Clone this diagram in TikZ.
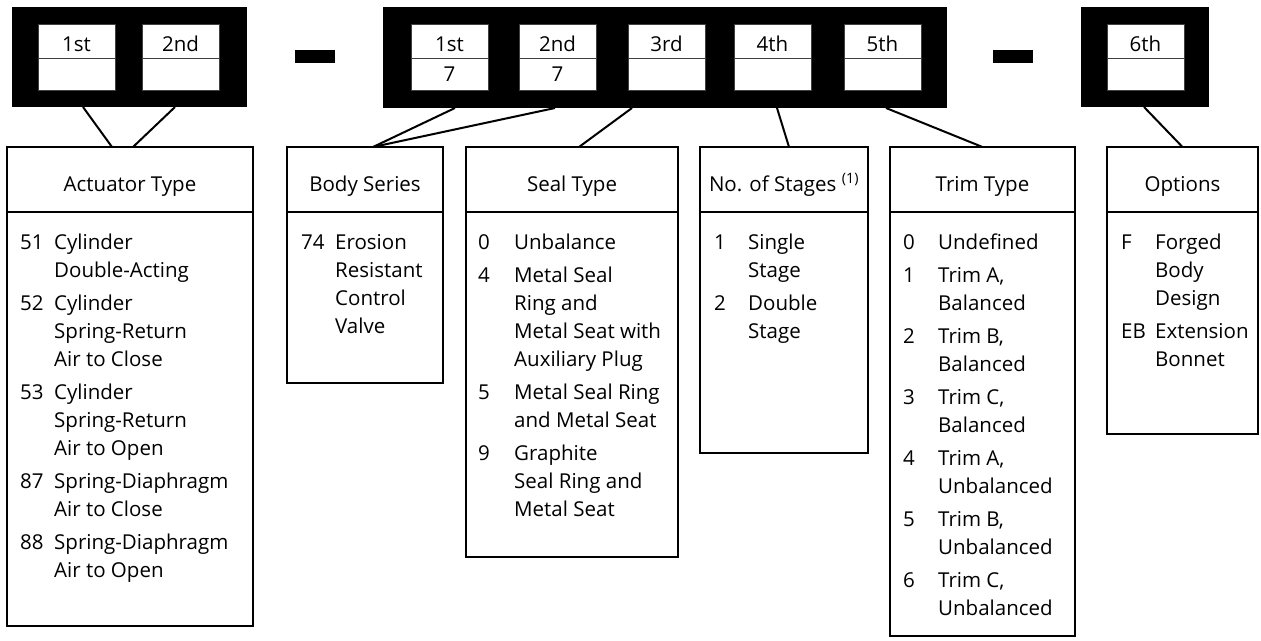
\documentclass[tikz,border=0pt]{standalone}
\usepackage{fontspec}
\setmainfont{Open Sans}
\usetikzlibrary{positioning, calc}
\tikzset{ blk/.style = { fill           = black
                       , inner sep      = 0pt
                       , outer sep      = 0pt
                       , anchor         = north west
                       },
          cel/.style = { draw           = black!75
                       , fill           = white
                       , line width     = 1pt
                       , inner sep      = 0pt
                       , outer sep      = 0pt
                       , minimum width  = 77pt
                       , minimum height = 34pt
                       , anchor         = north west
                       , font           = \fontsize{20.5}{24}\selectfont
                       },
          hd/.style  = { draw
                       , line width     = 1.3pt
                       , inner sep      = 0pt
                       , outer sep      = 0pt
                       , minimum height = 65pt
                       , anchor         = north west
                       , text height    = 23pt
                       , text depth     = 0pt
                       , font           = \fontsize{20.5}{28}\selectfont
                       },
          bd/.style  = { draw
                       , line width     = 1.3pt
                       , inner sep      = 0pt
                       , outer sep      = 0pt
                       , anchor         = north
                       },
          lst/.style = { inner sep      = 0pt
                       , anchor         = north west
                       , font           = \fontsize{20.5}{28}\selectfont
                       },
          ln/.style  = { line width     = 2pt
                       }
        }

\begin{document}
\begin{tikzpicture}[x=1pt, y=-1pt]
    \useasboundingbox (0,0) rectangle (1261,640);

    % code blocks and dashes
    \node[blk, minimum width=235pt, minimum height=100pt] (blkL) at (12,7) {};
    \node[blk, minimum width=564pt, minimum height=101pt] (blkM) at (383,7) {};
    \node[blk, minimum width=128pt, minimum height=100pt] (blkR) at (1081,7) {};
    \node[blk, minimum width=40pt, minimum height=13pt] (dashA) at (295,50) {};
    \node[blk, minimum width=40pt, minimum height=13pt] (dashB) at (993,50) {};

    \foreach \cx/\lbl [count=\i] in {38/1st, 142/2nd} {
        \node[cel, text height=21pt, text depth=0pt] (l\i) at (\cx,24) {\lbl};
        \node[cel, minimum height=32pt, below=0pt of l\i] (lv\i) {};
    }
    \foreach \cx/\lbl/\val [count=\i] in {411/1st/7, 519/2nd/7, 628/3rd/{}, 734/4th/{}, 844/5th/{}} {
        \node[cel, text height=21pt, text depth=0pt] (m\i) at (\cx,24) {\lbl};
        \node[cel, minimum height=32pt, below=0pt of m\i] (mv\i) {\val};
    }
    \node[cel, text height=21pt, text depth=0pt] (r1) at (1107,24) {6th};
    \node[cel, minimum height=32pt, below=0pt of r1] (rv1) {};

    % field boxes
    \node[hd, minimum width=246pt] (act) at (7,147) {Actuator Type};
    \node[bd, minimum width=246pt, minimum height=414pt, below=0pt of act] (actb) {};
    \node[hd, minimum width=156pt] (body) at (287,147) {Body Series};
    \node[bd, minimum width=156pt, minimum height=171pt, below=0pt of body] (bodyb) {};
    \node[hd, minimum width=212pt] (seal) at (466,147) {Seal Type};
    \node[bd, minimum width=212pt, minimum height=345pt, below=0pt of seal] (sealb) {};
    \node[hd, minimum width=168pt] (stg) at (700,147) {No. of Stages \textsuperscript{(1)}};
    \node[bd, minimum width=168pt, minimum height=241pt, below=0pt of stg] (stgb) {};
    \node[hd, minimum width=185pt] (trim) at (890,147) {Trim Type};
    \node[bd, minimum width=185pt, minimum height=424pt, below=0pt of trim] (trimb) {};
    \node[hd, minimum width=151pt] (opt) at (1107,147) {Options};
    \node[bd, minimum width=151pt, minimum height=222pt, below=0pt of opt] (optb) {};

    \node[lst] (actl) at ($(actb.north west)+(13,17.4)$) {%
        \begin{tabular}{@{}p{34pt}@{}l@{}}
        51 & Cylinder\\ & Double-Acting\\[5pt]
        52 & Cylinder\\ & Spring-Return\\ & Air to Close\\[5pt]
        53 & Cylinder\\ & Spring-Return\\ & Air to Open\\[5pt]
        87 & Spring-Diaphragm\\ & Air to Close\\[5pt]
        88 & Spring-Diaphragm\\ & Air to Open
        \end{tabular}};
    \node[lst] (bodyl) at ($(bodyb.north west)+(14,17.4)$) {%
        \begin{tabular}{@{}p{34pt}@{}l@{}}
        74 & Erosion\\ & Resistant\\ & Control\\ & Valve
        \end{tabular}};
    \node[lst] (seall) at ($(sealb.north west)+(12,17.4)$) {%
        \begin{tabular}{@{}p{36pt}@{}l@{}}
        0 & Unbalance\\[5pt]
        4 & Metal Seal\\ & Ring and\\ & Metal Seat with\\ & Auxiliary Plug\\[5pt]
        5 & Metal Seal Ring\\ & and Metal Seat\\[5pt]
        9 & Graphite\\ & Seal Ring and\\ & Metal Seat
        \end{tabular}};
    \node[lst] (stgl) at ($(stgb.north west)+(14,17.4)$) {%
        \begin{tabular}{@{}p{34pt}@{}l@{}}
        1 & Single\\ & Stage\\[5pt]
        2 & Double\\ & Stage
        \end{tabular}};
    \node[lst] (triml) at ($(trimb.north west)+(13,17.4)$) {%
        \begin{tabular}{@{}p{35pt}@{}l@{}}
        0 & Undefined\\[5pt]
        1 & Trim A,\\ & Balanced\\[5pt]
        2 & Trim B,\\ & Balanced\\[5pt]
        3 & Trim C,\\ & Balanced\\[5pt]
        4 & Trim A,\\ & Unbalanced\\[5pt]
        5 & Trim B,\\ & Unbalanced\\[5pt]
        6 & Trim C,\\ & Unbalanced
        \end{tabular}};
    \node[lst] (optl) at ($(optb.north west)+(14,17.4)$) {%
        \begin{tabular}{@{}p{34pt}@{}l@{}}
        F & Forged\\ & Body\\ & Design\\[5pt]
        EB & Extension\\ & Bonnet
        \end{tabular}};

    % connectors
    \draw[ln] ($(blkL.south -| l1)+(6.5,0)$) -- ($(act.north)+(-18,0)$);
    \draw[ln] ($(blkL.south -| l2)+(-5.5,0)$) -- ($(act.north)+(3,0)$);
    \draw[ln] ($(blkM.south -| m1)+(5.5,0)$) -- ($(body.north)+(8,0)$);
    \draw[ln] ($(blkM.south -| m2)+(-2.5,0)$) -- ($(body.north)+(8,0)$);
    \draw[ln] ($(blkM.south -| m3)+(-34.5,0)$) -- ($(seal.north)+(7,0)$);
    \draw[ln] ($(blkM.south -| m4)+(4.5,0)$) -- ($(stg.north)+(5,0)$);
    \draw[ln] ($(blkM.south -| m5)+(3.5,0)$) -- (trim.north);
    \draw[ln] ($(blkR.south -| r1)+(-1.5,0)$) -- (opt.north);
\end{tikzpicture}
\end{document}
